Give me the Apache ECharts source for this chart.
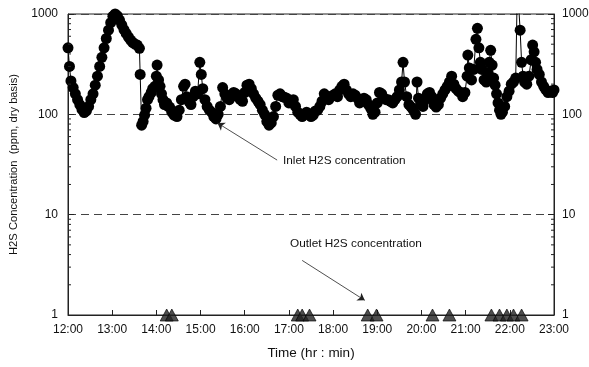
<!DOCTYPE html>
<html>
<head>
<meta charset="utf-8">
<script src="https://cdn.jsdelivr.net/npm/echarts@6.0.0/dist/echarts.min.js"></script>
<style>
html, body { margin: 0; padding: 0; background: #fff; }
#main { width: 589px; height: 367px; }
</style>
</head>
<body>
<div id="main"></div>
<script>
// minutes after 12:00, ppm (dry basis)
const inletMin = [
    0, 2, 4, 7, 10, 13, 16, 19, 22, 25, 28, 31, 34, 37, 40, 43, 46, 49, 52, 55, 58, 61, 64, 67, 70, 73, 76, 79, 82, 85,
    88, 91, 94, 97, 98, 100, 102, 104, 106, 108, 110, 113, 115, 118, 120, 121, 123, 125, 127, 129, 131, 134, 136, 138, 141, 144,
    148, 151, 154, 157, 159, 161, 164, 167, 170, 173, 176, 179, 181, 183, 186, 189, 192, 195, 198, 201, 204, 207, 210, 213,
    216, 219, 222, 225, 228, 231, 234, 237, 240, 243, 246, 249, 252, 255, 258, 261, 264, 267, 270, 273, 276, 279, 282, 285,
    288, 291, 294, 297, 300, 303, 306, 309, 312, 315, 318, 321, 324, 327, 330, 333, 336, 339, 342, 345, 348, 351, 354, 357,
    360, 363, 366, 369, 372, 375, 378, 381, 384, 387, 390, 393, 396, 399, 402, 405, 408, 411, 414, 417, 420, 423, 426, 429,
    432, 435, 438, 441, 444, 447, 450, 453, 455, 457, 460, 463, 466, 469, 472, 474, 476, 479, 482, 485, 488, 491, 494, 497,
    500, 503, 506, 509, 512, 515, 518, 521, 524, 527, 530, 533, 536, 539, 542, 543, 545, 548, 551, 554, 556, 558, 560, 562,
    565, 568, 570, 572, 574, 576, 578, 580, 582, 584, 586, 588, 590, 593, 596, 599, 602, 605, 608, 610, 612, 614, 616, 618,
    620, 623, 626, 629, 631, 633, 635, 637, 640, 643, 646, 649, 652, 655, 658, 660
];
const inletPpm = [
    460, 300, 215, 185, 160, 140, 125, 112, 104, 108, 120, 140, 160, 195, 240, 300, 370, 460, 570, 690, 820, 950, 1000, 960, 870, 780, 700, 640, 590, 550,
    520, 500, 490, 455, 250, 78, 85, 98, 115, 140, 150, 165, 180, 190, 240, 310, 220, 190, 160, 140, 125, 130, 120, 118, 105, 98,
    95, 110, 140, 190, 200, 150, 135, 125, 150, 170, 160, 330, 250, 180, 140, 120, 110, 105, 95, 90, 100, 120, 185, 160,
    145, 140, 150, 165, 160, 150, 140, 135, 165, 195, 200, 180, 160, 145, 135, 125, 110, 100, 85, 78, 82, 95, 120, 155,
    160, 150, 148, 145, 130, 135, 140, 120, 105, 100, 95, 100, 105, 100, 95, 98, 108, 110, 120, 135, 160, 150, 140, 150,
    155, 160, 150, 175, 190, 200, 175, 160, 150, 160, 155, 145, 130, 135, 145, 140, 125, 115, 100, 105, 130, 165, 160, 145,
    140, 140, 135, 130, 140, 150, 175, 210, 330, 210, 150, 125, 118, 110, 100, 210, 145, 125, 120, 140, 160, 165, 150, 125,
    118, 125, 145, 160, 175, 190, 210, 240, 200, 180, 170, 165, 150, 165, 240, 390, 290, 220, 280, 560, 720, 460, 330, 280,
    220, 210, 260, 330, 435, 310, 230, 195, 160, 130, 110, 100, 105, 120, 150, 170, 200, 210, 230, 1500, 1200, 690, 330, 240,
    210, 200, 240, 350, 490, 420, 330, 280, 250, 210, 190, 175, 165, 170, 165, 175
];
const outletMin = [134, 141, 312, 318, 328, 407, 419, 495, 518, 575, 586, 596, 605, 616];
const outletPpm = [1, 1, 1, 1, 1, 1, 1, 1, 1, 1, 1, 1, 1, 1];
const minorTicks = [2, 3, 4, 5, 6, 7, 8, 9, 20, 30, 40, 50, 60, 70, 80, 90, 200, 300, 400, 500, 600, 700, 800, 900];

const sFont = '"Liberation Sans", Arial, sans-serif';
const oMain = echarts.init(document.getElementById('main'), null, { renderer: 'canvas' });

const inletData = inletMin.map((m, i) => [m, inletPpm[i]]);
const outletData = outletMin.map((m, i) => [m, outletPpm[i]]);

function yAxisOf(sPos){
    return {
        type: 'log',
        logBase: 10,
        min: 1,
        max: 1000,
        position: sPos,
        axisLine: { show: true, lineStyle: { color: '#222', width: 1 } },
        axisTick: { show: true, inside: true, length: 6, lineStyle: { color: '#222' } },
        axisLabel: {
            color: '#111', fontSize: 12, fontFamily: sFont, margin: sPos == 'left' ? 10 : 8,
            formatter: v => String(Math.round(v)),
        },
        splitLine: sPos == 'left'
            ? { show: true, lineStyle: { color: '#444', type: [8, 5], width: 1 } }
            : { show: false },
    };
}

const option = {
    animation: false,
    backgroundColor: '#fff',
    grid: {
        left: 68, right: 35, top: 14, bottom: 52,
        show: true, borderColor: '#222', borderWidth: 1,
        outerBoundsMode: 'none',
    },
    xAxis: {
        type: 'value',
        min: 0,
        max: 660,
        interval: 60,
        name: 'Time (hr : min)',
        nameLocation: 'middle',
        nameGap: 31,
        nameTextStyle: { color: '#111', fontSize: 13.5, fontFamily: sFont },
        axisLine: { show: true, lineStyle: { color: '#222' } },
        axisTick: { show: true, inside: true, length: 5, lineStyle: { color: '#222' } },
        axisLabel: {
            color: '#111', fontSize: 12, fontFamily: sFont, margin: 9,
            formatter: v => (12 + v / 60) + ':00',
        },
        splitLine: { show: false },
    },
    yAxis: [
        Object.assign(yAxisOf('left'), {
            name: 'H2S Concentration  (ppm, dry basis)',
            nameLocation: 'middle',
            nameGap: 49,
            nameTextStyle: { color: '#111', fontSize: 11.2, fontFamily: sFont },
        }),
        yAxisOf('right'),
    ],
    graphic: [
        { type: 'text', left: 283, top: 155, style: { text: 'Inlet H2S concentration', fill: '#111', font: '11.8px ' + sFont } },
        { type: 'text', left: 290, top: 238, style: { text: 'Outlet H2S concentration', fill: '#111', font: '11.8px ' + sFont } },
    ],
    series: [
        {
            name: 'minor ticks',
            type: 'custom',
            silent: true,
            z: 5,
            data: minorTicks.map(v => [0, v]),
            renderItem(params, api){
                const v = api.value(1);
                const pL = api.coord([0, v]);
                const pR = api.coord([660, v]);
                const style = { stroke: '#222', lineWidth: 1 };
                return {
                    type: 'group',
                    children: [
                        { type: 'line', shape: { x1: pL[0], y1: pL[1], x2: pL[0] + 3, y2: pL[1] }, style },
                        { type: 'line', shape: { x1: pR[0] - 3, y1: pR[1], x2: pR[0], y2: pR[1] }, style },
                    ],
                };
            },
        },
        {
            name: 'Inlet H2S concentration',
            type: 'line',
            data: inletData,
            symbol: 'circle',
            symbolSize: 11,
            showAllSymbol: true,
            clip: true,
            itemStyle: { color: '#000' },
            lineStyle: { color: '#000', width: 1 },
            markLine: {
                silent: true,
                symbol: ['none', 'arrow'],
                symbolSize: 7,
                label: { show: false },
                lineStyle: { color: '#222', width: 0.8, type: 'solid' },
                data: [
                    [{ coord: [284, 35] }, { coord: [203, 82] }],
                    [{ coord: [318, 3.5] }, { coord: [403, 1.4] }],
                ],
            },
        },
        {
            name: 'Outlet H2S concentration',
            type: 'scatter',
            data: outletData,
            symbol: 'triangle',
            symbolSize: [13, 12],
            itemStyle: { color: '#222', borderColor: '#000', borderWidth: 0.8 },
            z: 4,
        },
    ],
};
oMain.setOption(option);
</script>
</body>
</html>
